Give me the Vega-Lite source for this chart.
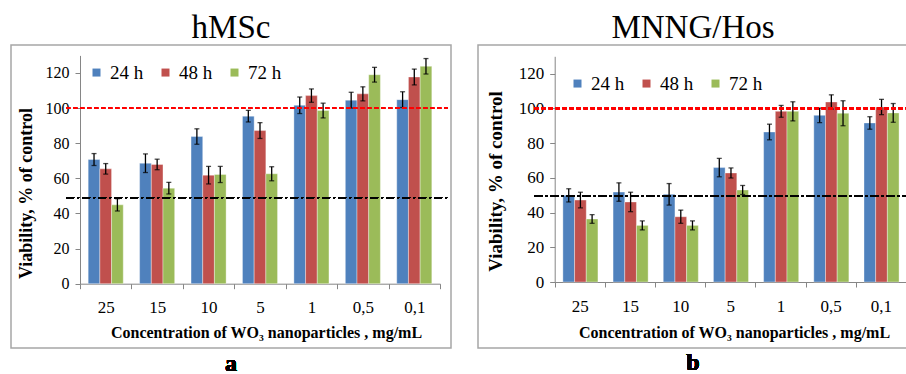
{
  "$schema": "https://vega.github.io/schema/vega-lite/v6.json",
  "background": "white",
  "padding": {"left": 10, "top": 11, "right": 0, "bottom": 0},
  "config": {
    "view": {"stroke": "#a6a6a6", "strokeWidth": 1.5},
    "font": "Liberation Serif",
    "axis": {"grid": false}
  },
  "datasets": {
    "hmsc": [
      {"c": "25", "s": "24 h", "v": 70.7, "lo": 67.3, "hi": 74.1},
      {"c": "25", "s": "48 h", "v": 65.4, "lo": 62.4, "hi": 68.4},
      {"c": "25", "s": "72 h", "v": 44.9, "lo": 41.4, "hi": 48.4},
      {"c": "15", "s": "24 h", "v": 68.6, "lo": 63.3, "hi": 73.9},
      {"c": "15", "s": "48 h", "v": 67.9, "lo": 64.9, "hi": 70.9},
      {"c": "15", "s": "72 h", "v": 54.4, "lo": 51.1, "hi": 57.7},
      {"c": "10", "s": "24 h", "v": 83.8, "lo": 79.4, "hi": 88.2},
      {"c": "10", "s": "48 h", "v": 61.8, "lo": 56.8, "hi": 66.8},
      {"c": "10", "s": "72 h", "v": 62.2, "lo": 57.6, "hi": 66.8},
      {"c": "5", "s": "24 h", "v": 95.4, "lo": 92.1, "hi": 98.7},
      {"c": "5", "s": "48 h", "v": 87.2, "lo": 82.7, "hi": 91.7},
      {"c": "5", "s": "72 h", "v": 62.6, "lo": 58.6, "hi": 66.6},
      {"c": "1", "s": "24 h", "v": 101.6, "lo": 96.9, "hi": 106.3},
      {"c": "1", "s": "48 h", "v": 107.1, "lo": 103.3, "hi": 110.9},
      {"c": "1", "s": "72 h", "v": 98.6, "lo": 94.4, "hi": 102.8},
      {"c": "0,5", "s": "24 h", "v": 104.5, "lo": 100.0, "hi": 109.0},
      {"c": "0,5", "s": "48 h", "v": 108.1, "lo": 104.1, "hi": 112.1},
      {"c": "0,5", "s": "72 h", "v": 119.0, "lo": 114.8, "hi": 123.2},
      {"c": "0,1", "s": "24 h", "v": 104.8, "lo": 100.3, "hi": 109.3},
      {"c": "0,1", "s": "48 h", "v": 117.7, "lo": 113.2, "hi": 122.2},
      {"c": "0,1", "s": "72 h", "v": 123.8, "lo": 119.4, "hi": 128.2}
    ],
    "mnng": [
      {"c": "25", "s": "24 h", "v": 49.9, "lo": 46.1, "hi": 53.7},
      {"c": "25", "s": "48 h", "v": 47.2, "lo": 42.7, "hi": 51.7},
      {"c": "25", "s": "72 h", "v": 36.3, "lo": 33.8, "hi": 38.8},
      {"c": "15", "s": "24 h", "v": 51.8, "lo": 46.5, "hi": 57.1},
      {"c": "15", "s": "48 h", "v": 46.1, "lo": 40.5, "hi": 51.7},
      {"c": "15", "s": "72 h", "v": 32.6, "lo": 30.0, "hi": 35.2},
      {"c": "10", "s": "24 h", "v": 50.5, "lo": 44.3, "hi": 56.7},
      {"c": "10", "s": "48 h", "v": 37.6, "lo": 33.8, "hi": 41.4},
      {"c": "10", "s": "72 h", "v": 32.6, "lo": 30.0, "hi": 35.2},
      {"c": "5", "s": "24 h", "v": 65.9, "lo": 60.6, "hi": 71.2},
      {"c": "5", "s": "48 h", "v": 62.8, "lo": 59.9, "hi": 65.7},
      {"c": "5", "s": "72 h", "v": 53.0, "lo": 50.4, "hi": 55.6},
      {"c": "1", "s": "24 h", "v": 86.4, "lo": 81.9, "hi": 90.9},
      {"c": "1", "s": "48 h", "v": 98.3, "lo": 94.9, "hi": 101.7},
      {"c": "1", "s": "72 h", "v": 98.3, "lo": 92.8, "hi": 103.8},
      {"c": "0,5", "s": "24 h", "v": 96.0, "lo": 91.8, "hi": 100.2},
      {"c": "0,5", "s": "48 h", "v": 103.7, "lo": 99.6, "hi": 107.8},
      {"c": "0,5", "s": "72 h", "v": 97.2, "lo": 90.0, "hi": 104.4},
      {"c": "0,1", "s": "24 h", "v": 91.6, "lo": 88.0, "hi": 95.2},
      {"c": "0,1", "s": "48 h", "v": 100.8, "lo": 96.4, "hi": 105.2},
      {"c": "0,1", "s": "72 h", "v": 97.4, "lo": 92.0, "hi": 102.8}
    ]
  },
  "resolve": {"scale": {"color": "independent"}, "legend": {"color": "independent"}},
  "spacing": 25,
  "hconcat": [
    {
      "width": 440,
      "height": 303,
      "title": {"text": "hMSc", "fontSize": 33, "font": "Liberation Serif", "fontWeight": "normal", "baseline": "top", "offset": 0, "anchor": "middle", "color": "#000"},
      "data": {"name": "hmsc"},
      "resolve": {"scale": {"x": "independent"}, "axis": {"x": "independent"}},
      "layer": [
        {
          "layer": [
            {
              "mark": {"type": "bar", "stroke": "#ffffff", "strokeWidth": 0.6, "strokeOpacity": 0.6},
              "encoding": {
                "x": {"field": "c", "type": "nominal",
                  "scale": {"domain": ["25", "15", "10", "5", "1", "0,5", "0,1"], "range": [69, 429], "paddingInner": 0, "paddingOuter": 0},
                  "axis": {"title": "Concentration of WO₃ nanoparticles , mg/mL", "orient": "bottom", "offset": -64.3, "tickBand": "extent",
                    "domainColor": "#868686", "domainWidth": 1, "tickColor": "#868686", "tickSize": 5, "labelAngle": 0,
                    "labelFont": "Liberation Serif", "labelFontSize": 17, "labelColor": "#000", "labelPadding": 11,
                    "titleFont": "Liberation Serif", "titleFontSize": 16, "titleFontWeight": "bold", "titleColor": "#000",
                    "titleX": 255, "titleY": 41, "titleBaseline": "top", "titleAlign": "center"}},
                "xOffset": {"field": "s", "type": "nominal", "scale": {"paddingInner": 0, "paddingOuter": 0.7}},
                "y": {"field": "v", "type": "quantitative",
                  "scale": {"domain": [0, 130], "range": [238.7, 10.4], "nice": false},
                  "axis": {"title": "Viability, % of control", "orient": "left", "offset": -69, "values": [0, 20, 40, 60, 80, 100, 120],
                    "domainColor": "#868686", "domainWidth": 1, "tickColor": "#868686", "tickSize": 5,
                    "labelFont": "Liberation Serif", "labelFontSize": 16, "labelColor": "#000", "labelPadding": 6,
                    "titleFont": "Liberation Serif", "titleFontSize": 18, "titleFontWeight": "bold", "titleColor": "#000",
                    "titleX": -54, "titleY": 148, "titleAngle": -90, "titleAlign": "center", "titleBaseline": "middle"}},
                "color": {"field": "s", "type": "nominal",
                  "scale": {"domain": ["24 h", "48 h", "72 h"], "range": ["#4f81bd", "#c0504d", "#9bbb59"]},
                  "legend": {"title": null, "orient": "none", "legendX": 76, "legendY": 17.8, "direction": "horizontal",
                    "symbolType": "square", "symbolSize": 64, "symbolStrokeWidth": 0, "labelFont": "Liberation Serif",
                    "labelFontSize": 19, "labelColor": "#000", "labelOffset": 4, "columnPadding": 12, "padding": 0}}
              }
            },
            {
              "mark": {"type": "rule", "color": "#000", "strokeWidth": 1.3},
              "encoding": {
                "x": {"field": "c", "type": "nominal"},
                "xOffset": {"field": "s", "type": "nominal"},
                "y": {"field": "lo", "type": "quantitative"},
                "y2": {"field": "hi"}
              }
            },
            {
              "mark": {"type": "tick", "color": "#000", "thickness": 1.3, "size": 5, "orient": "horizontal"},
              "encoding": {
                "x": {"field": "c", "type": "nominal"},
                "xOffset": {"field": "s", "type": "nominal"},
                "y": {"field": "lo", "type": "quantitative"}
              }
            },
            {
              "mark": {"type": "tick", "color": "#000", "thickness": 1.3, "size": 5, "orient": "horizontal"},
              "encoding": {
                "x": {"field": "c", "type": "nominal"},
                "xOffset": {"field": "s", "type": "nominal"},
                "y": {"field": "hi", "type": "quantitative"}
              }
            }
          ]
        },
        {
          "mark": {"type": "rule", "color": "#ff0000", "strokeDash": [4, 3], "strokeWidth": 1.6},
          "encoding": {
            "x": {"datum": -0.27, "type": "quantitative", "scale": {"domain": [0, 7], "range": [69, 429], "zero": false, "nice": false}, "axis": null},
            "x2": {"datum": 7.14},
            "y": {"datum": 100, "type": "quantitative"}
          }
        },
        {
          "mark": {"type": "rule", "color": "#000", "strokeDash": [8, 3, 2, 3], "strokeWidth": 1.3},
          "encoding": {
            "x": {"datum": -0.27, "type": "quantitative", "scale": {"domain": [0, 7], "range": [69, 429], "zero": false, "nice": false}, "axis": null},
            "x2": {"datum": 7.14},
            "y": {"datum": 49, "type": "quantitative"}
          }
        },
        {
          "mark": {"type": "text", "fontSize": 24, "fontWeight": "bold", "font": "Liberation Serif", "baseline": "alphabetic", "color": "#000", "text": "a"},
          "encoding": {
            "y": {"datum": -49.7, "type": "quantitative"}
          }
        }
      ]
    },
    {
      "width": 430,
      "height": 303,
      "title": {"text": "MNNG/Hos", "fontSize": 33, "font": "Liberation Serif", "fontWeight": "normal", "baseline": "top", "offset": 0, "anchor": "middle", "color": "#000"},
      "data": {"name": "mnng"},
      "resolve": {"scale": {"x": "independent"}, "axis": {"x": "independent"}},
      "layer": [
        {
          "layer": [
            {
              "mark": {"type": "bar", "stroke": "#ffffff", "strokeWidth": 0.6, "strokeOpacity": 0.6},
              "encoding": {
                "x": {"field": "c", "type": "nominal",
                  "scale": {"domain": ["25", "15", "10", "5", "1", "0,5", "0,1"], "range": [76.7, 428], "paddingInner": 0, "paddingOuter": 0},
                  "axis": {"title": "Concentration of WO₃ nanoparticles , mg/mL", "orient": "bottom", "offset": -66, "tickBand": "extent",
                    "domainColor": "#868686", "domainWidth": 1, "tickColor": "#868686", "tickSize": 5, "labelAngle": 0,
                    "labelFont": "Liberation Serif", "labelFontSize": 17, "labelColor": "#000", "labelPadding": 11,
                    "titleFont": "Liberation Serif", "titleFontSize": 16, "titleFontWeight": "bold", "titleColor": "#000",
                    "titleX": 256, "titleY": 42.5, "titleBaseline": "top", "titleAlign": "center"}},
                "xOffset": {"field": "s", "type": "nominal", "scale": {"paddingInner": 0, "paddingOuter": 0.7}},
                "y": {"field": "v", "type": "quantitative",
                  "scale": {"domain": [0, 130], "range": [237, 11.3], "nice": false},
                  "axis": {"title": "Viability, % of control", "orient": "left", "offset": -76.7, "values": [0, 20, 40, 60, 80, 100, 120],
                    "domainColor": "#868686", "domainWidth": 1, "tickColor": "#868686", "tickSize": 5,
                    "labelFont": "Liberation Serif", "labelFontSize": 17, "labelColor": "#000", "labelPadding": 6,
                    "titleFont": "Liberation Serif", "titleFontSize": 19, "titleFontWeight": "bold", "titleColor": "#000",
                    "titleX": -59, "titleY": 136, "titleAngle": -90, "titleAlign": "center", "titleBaseline": "middle"}},
                "color": {"field": "s", "type": "nominal",
                  "scale": {"domain": ["24 h", "48 h", "72 h"], "range": ["#4f81bd", "#c0504d", "#9bbb59"]},
                  "legend": {"title": null, "orient": "none", "legendX": 90, "legendY": 28.8, "direction": "horizontal",
                    "symbolType": "square", "symbolSize": 64, "symbolStrokeWidth": 0, "labelFont": "Liberation Serif",
                    "labelFontSize": 19, "labelColor": "#000", "labelOffset": 4, "columnPadding": 12, "padding": 0}}
              }
            },
            {
              "mark": {"type": "rule", "color": "#000", "strokeWidth": 1.3},
              "encoding": {
                "x": {"field": "c", "type": "nominal"},
                "xOffset": {"field": "s", "type": "nominal"},
                "y": {"field": "lo", "type": "quantitative"},
                "y2": {"field": "hi"}
              }
            },
            {
              "mark": {"type": "tick", "color": "#000", "thickness": 1.3, "size": 5, "orient": "horizontal"},
              "encoding": {
                "x": {"field": "c", "type": "nominal"},
                "xOffset": {"field": "s", "type": "nominal"},
                "y": {"field": "lo", "type": "quantitative"}
              }
            },
            {
              "mark": {"type": "tick", "color": "#000", "thickness": 1.3, "size": 5, "orient": "horizontal"},
              "encoding": {
                "x": {"field": "c", "type": "nominal"},
                "xOffset": {"field": "s", "type": "nominal"},
                "y": {"field": "hi", "type": "quantitative"}
              }
            }
          ]
        },
        {
          "mark": {"type": "rule", "color": "#ff0000", "strokeDash": [4, 3], "strokeWidth": 1.6},
          "encoding": {
            "x": {"datum": -0.4, "type": "quantitative", "scale": {"domain": [0, 7], "range": [76.7, 428], "zero": false, "nice": false}, "axis": null},
            "x2": {"datum": 7.02},
            "y": {"datum": 100, "type": "quantitative"}
          }
        },
        {
          "mark": {"type": "rule", "color": "#000", "strokeDash": [8, 3, 2, 3], "strokeWidth": 1.3},
          "encoding": {
            "x": {"datum": -0.4, "type": "quantitative", "scale": {"domain": [0, 7], "range": [76.7, 428], "zero": false, "nice": false}, "axis": null},
            "x2": {"datum": 7.02},
            "y": {"datum": 49.5, "type": "quantitative"}
          }
        },
        {
          "mark": {"type": "text", "fontSize": 24, "fontWeight": "bold", "font": "Liberation Serif", "baseline": "alphabetic", "color": "#000", "text": "b"},
          "encoding": {
            "y": {"datum": -50.7, "type": "quantitative"}
          }
        }
      ]
    }
  ]
}
